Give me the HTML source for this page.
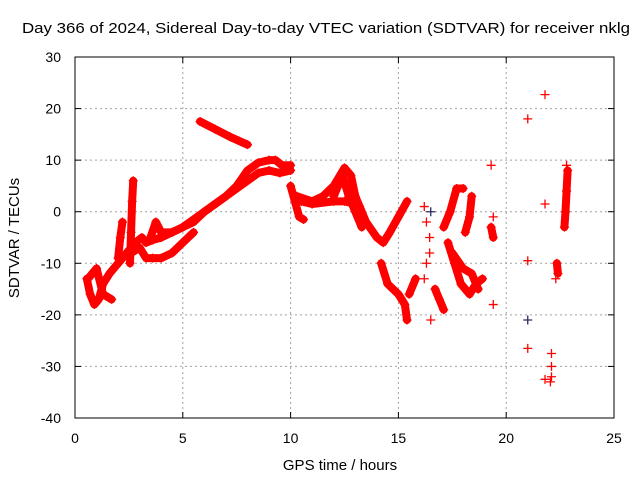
<!DOCTYPE html>
<html><head><meta charset="utf-8"><style>
body{margin:0;background:#fff}
svg{display:block;font-family:"Liberation Sans",sans-serif}
</style></head><body>
<svg id="chart" width="640" height="480" viewBox="0 0 640 480" xmlns="http://www.w3.org/2000/svg">
<rect width="640" height="480" fill="#fff"/>
<text x="22" y="33" font-size="15" textLength="608" lengthAdjust="spacingAndGlyphs">Day 366 of 2024, Sidereal Day-to-day VTEC variation (SDTVAR) for receiver nklg</text>
<g id="grid"></g>
<g id="marks"></g>
<g id="axes"></g>
<text x="340" y="470" font-size="15" text-anchor="middle">GPS time / hours</text>
<text transform="translate(19,238) rotate(-90)" font-size="15" text-anchor="middle">SDTVAR / TECUs</text>
</svg>
<script>
const xTicks=[0,5,10,15,20,25];
const yTicks=[30,20,10,0,-10,-20,-30,-40];
const trackLowerMain=[[0.55,-13],[0.7,-16],[0.9,-18],[1.1,-17],[1.3,-14],[1.6,-12],[2.0,-10],[2.4,-8],[2.8,-6],[3.1,-5],[3.3,-6],[3.6,-5.5],[4.0,-5],[4.5,-4],[5.0,-3],[5.5,-1.5],[6.0,0],[6.5,1.5],[7.0,3],[7.5,4.5],[8.0,6],[8.5,7.5],[9.0,8],[9.5,7.5],[10.0,8]];
const trackUpperMain=[[3.5,-5],[3.75,-2],[4.0,-4],[4.5,-4],[5.0,-3],[5.5,-2],[6.0,0],[6.5,1.5],[7.0,3],[7.5,5],[8.0,8],[8.5,9.5],[9.0,10],[9.3,10],[9.6,9],[10.0,9]];
const trackWiggle=[[2.6,-8],[3.0,-7],[3.3,-9],[3.6,-9],[4.0,-9],[4.5,-8],[5.0,-6],[5.5,-4]];
const trackUpperShort=[[5.8,17.5],[6.5,16],[7.2,14.5],[8.0,13]];
const trackSpike1=[[2.55,-10],[2.6,-4],[2.65,2],[2.7,6]];
const trackSpike2=[[2.0,-9],[2.1,-5],[2.2,-2]];
const trackSpike3=[[0.6,-13],[1.0,-11],[1.3,-16],[1.7,-17]];
const trackFall=[[10.0,5],[10.2,2],[10.4,-1],[10.6,-1.5]];
const trackArchA=[[10.3,3],[11.0,2],[11.5,3],[12.0,5],[12.5,8.5],[12.8,7],[13.0,3],[13.5,-2],[14.0,-5],[14.3,-6],[14.6,-4],[15.0,-1],[15.4,2]];
const trackArchB=[[10.5,2],[11.0,1.5],[12.0,2],[12.5,2],[13.0,1.5],[13.2,1]];
const trackArchC=[[12.0,3],[12.4,7],[12.7,3],[13.0,0],[13.3,-3]];
const trackDropA=[[14.2,-10],[14.5,-14],[15.0,-16],[15.3,-18],[15.4,-21]];
const trackDropB=[[15.5,-16],[15.8,-13]];
const trackRiseR=[[17.1,-3],[17.4,0],[17.7,4.5],[18.0,4.5]];
const trackRiseR2=[[18.4,3],[18.3,-1],[18.1,-4]];
const trackDiagR=[[17.3,-6],[17.6,-10],[17.9,-14],[18.3,-16],[18.6,-14],[18.9,-13]];
const trackDiagR2=[[17.5,-8],[18.0,-11],[18.4,-12],[18.7,-15]];
const trackMidR=[[16.7,-15],[16.9,-17],[17.1,-19]];
const trackRight1=[[19.3,-3],[19.4,-5]];
const trackRight2=[[22.7,-3],[22.75,0],[22.8,4],[22.85,8]];
const trackRight3=[[22.35,-10],[22.4,-12]];
const isolated=[[16.2,1],[16.3,-2],[16.45,-5],[16.45,-8],[16.3,-10],[16.5,-21],[16.2,-13],[19.3,9],[19.4,-1],[19.4,-18],[21.0,18],[21.0,-9.5],[21.0,-26.5],[21.8,22.7],[21.8,1.5],[21.8,-32.5],[22.1,-27.5],[22.1,-30],[22.1,-32],[22.05,-33],[22.3,-13],[22.8,9]];
const darkPoints=[[16.5,0],[21.0,-21]];
const tracks=[trackLowerMain,trackUpperMain,trackWiggle,trackUpperShort,trackSpike1,trackSpike2,trackSpike3,trackFall,trackArchA,trackArchB,trackArchC,trackDropA,trackDropB,trackRiseR,trackRiseR2,trackDiagR,trackDiagR2,trackMidR,trackRight1,trackRight2,trackRight3];

const L=75,R=614,T=57,B=418;
const xs=v=>L+(v-0)/25*(R-L);
const ys=v=>B-(v+40)/70*(B-T);
const NS="http://www.w3.org/2000/svg";
function mk(tag,attrs,parent){const e=document.createElementNS(NS,tag);for(const k in attrs)e.setAttribute(k,attrs[k]);parent.appendChild(e);return e;}
const grid=document.getElementById('grid'),marks=document.getElementById('marks'),axes=document.getElementById('axes');
xTicks.forEach(t=>{
  if(t>0&&t<25){const g=mk('line',{x1:xs(t),x2:xs(t),y1:T,y2:B,stroke:'#a0a0a0','stroke-dasharray':'2,3'},grid);
  
  }
  const tx=mk('text',{x:xs(t),y:443,'font-size':14,'text-anchor':'middle'},axes);tx.textContent=t;
  
  
  mk('line',{x1:xs(t),x2:xs(t),y1:B,y2:B-6,stroke:'#000'},axes);
  mk('line',{x1:xs(t),x2:xs(t),y1:T,y2:T+6,stroke:'#000'},axes);
});
yTicks.forEach(t=>{
  if(t<30&&t>-40){const g=mk('line',{x1:L,x2:R,y1:ys(t),y2:ys(t),stroke:'#a0a0a0','stroke-dasharray':'2,3'},grid);
  
  }
  const tx=mk('text',{x:61,y:ys(t)+5,'font-size':14,'text-anchor':'end'},axes);tx.textContent=t;
  
  
  mk('line',{x1:L,x2:L+6,y1:ys(t),y2:ys(t),stroke:'#000'},axes);
  mk('line',{x1:R,x2:R-6,y1:ys(t),y2:ys(t),stroke:'#000'},axes);
});
const border=mk('rect',{x:L,y:T,width:R-L,height:B-T,fill:'none',stroke:'#000','stroke-width':1},axes);


function plus(p,color){
  const x=xs(p[0]),y=ys(p[1]);
  const e=mk('path',{d:`M${x-4.5},${y}H${x+4.5}M${x},${y-4.5}V${y+4.5}`,stroke:color,'stroke-width':1.3,fill:'none'},marks);
  
  
}
tracks.forEach(tr=>{
  const pl=mk('polyline',{points:tr.map(p=>xs(p[0])+','+ys(p[1])).join(' '),fill:'none',stroke:'#ff0000','stroke-width':8,'stroke-linejoin':'round','stroke-linecap':'round'},marks);
  
  
  tr.forEach(p=>plus(p,'#ff0000'));
});
isolated.forEach(p=>plus(p,'#ff0000'));
darkPoints.forEach(p=>plus(p,'#2a2a60'));
</script>
</body></html>
